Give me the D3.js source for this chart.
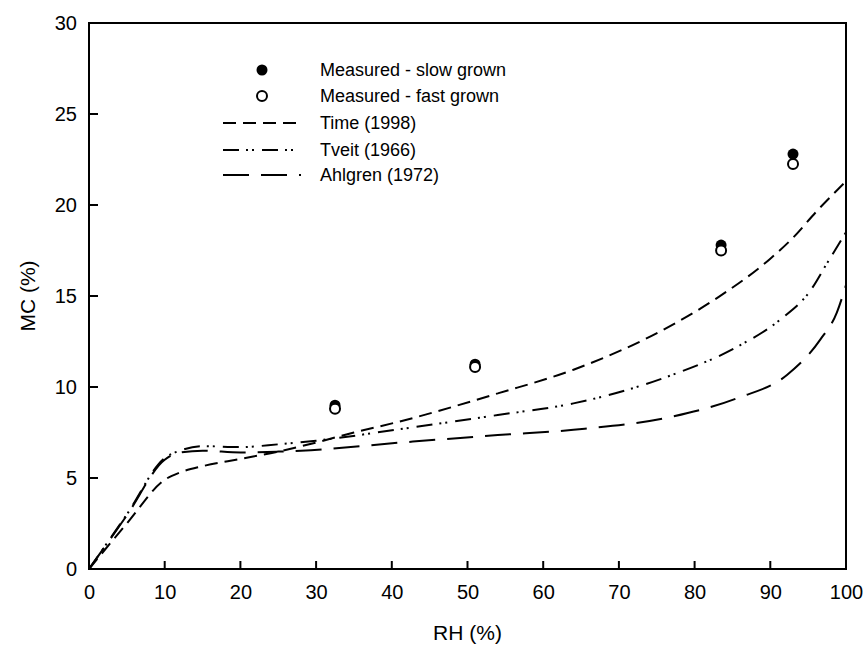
<!DOCTYPE html>
<html>
<head>
<meta charset="utf-8">
<script src="https://cdn.jsdelivr.net/npm/d3@7"></script>
<style>
  body { margin: 0; background: #fff; }
  svg { display: block; font-family: "Liberation Sans", Arial, sans-serif; }
</style>
</head>
<body>
<div id="chart"></div>
<script>
// measured points
const measuredRH = [32.5, 51, 83.5, 93];
const slowMC = [9.0, 11.25, 17.8, 22.8];
const fastMC = [8.8, 11.1, 17.5, 22.25];

// model curves
const timeRH = [0, 5, 10, 12, 15, 20, 25, 30, 35, 41, 54, 64, 77, 83, 90, 93, 96, 100];
const timeMC = [0, 2.5, 4.9, 5.3, 5.65, 6.05, 6.45, 6.95, 7.5, 8.1, 9.65, 10.95, 13.4, 14.9, 17.05, 18.2, 19.6, 21.3];

const tveitRH = [0, 5, 10, 12, 15, 20, 25, 30, 41, 54, 64, 77, 85.6, 91.3, 95.3, 97.5, 100];
const tveitMC = [0, 3.0, 6.1, 6.5, 6.75, 6.7, 6.85, 7.05, 7.68, 8.46, 9.1, 10.66, 12.2, 13.7, 15.3, 16.8, 18.5];

const ahlgrenRH = [0, 5, 10, 12, 15, 20, 25, 28, 41, 54, 64, 77, 85.6, 92.2, 96.6, 98.8, 100];
const ahlgrenMC = [0, 2.95, 6.0, 6.4, 6.5, 6.4, 6.45, 6.5, 6.94, 7.36, 7.65, 8.37, 9.38, 10.66, 12.6, 14.1, 15.6];

const xTicks = [0, 10, 20, 30, 40, 50, 60, 70, 80, 90, 100];
const yTicks = [0, 5, 10, 15, 20, 25, 30];

const legendLabels = ["Measured - slow grown", "Measured - fast grown", "Time (1998)", "Tveit (1966)", "Ahlgren (1972)"];

const width = 864, height = 648;
const svg = d3.select("#chart").append("svg")
  .attr("width", width)
  .attr("height", height);

const x = d3.scaleLinear().domain([0, 100]).range([89, 846]);
const y = d3.scaleLinear().domain([0, 30]).range([569, 23]);

const curves = [
  {rh: timeRH, mc: timeMC, dash: "13,7"},
  {rh: tveitRH, mc: tveitMC, dash: "16,7,2,4,2,8"},
  {rh: ahlgrenRH, mc: ahlgrenMC, dash: "26,12"}
];

const line = d3.line()
  .x(d => x(d[0]))
  .y(d => y(d[1]))
  .curve(d3.curveMonotoneX);

curves.forEach(c => {
  svg.append("path")
    .datum(c.rh.map((v, i) => [v, c.mc[i]]))
    .attr("d", line)
    .attr("fill", "none")
    .attr("stroke", "#000")
    .attr("stroke-width", 2)
    .attr("stroke-dasharray", c.dash);
});

// frame
svg.append("rect")
  .attr("x", x(0)).attr("y", y(30))
  .attr("width", x(100) - x(0)).attr("height", y(0) - y(30))
  .attr("fill", "none").attr("stroke", "#000").attr("stroke-width", 2);

// axes with inward ticks
const xAxis = svg.append("g")
  .attr("transform", `translate(0,${y(0)})`)
  .call(d3.axisBottom(x).tickValues(xTicks).tickSize(0).tickPadding(16));
xAxis.select(".domain").remove();
xAxis.selectAll("text").attr("font-size", 20).attr("font-family", "Liberation Sans, Arial, sans-serif").attr("fill", "#000");

svg.append("g").selectAll("line")
  .data(xTicks.filter(d => d > 0 && d < 100))
  .join("line")
  .attr("x1", d => x(d)).attr("x2", d => x(d))
  .attr("y1", y(0)).attr("y2", y(0) - 8)
  .attr("stroke", "#000").attr("stroke-width", 2);

const yAxis = svg.append("g")
  .attr("transform", `translate(${x(0)},0)`)
  .call(d3.axisLeft(y).tickValues(yTicks).tickSize(0).tickPadding(12));
yAxis.select(".domain").remove();
yAxis.selectAll("text").attr("font-size", 20).attr("font-family", "Liberation Sans, Arial, sans-serif").attr("fill", "#000");

svg.append("g").selectAll("line")
  .data(yTicks.filter(d => d > 0 && d < 30))
  .join("line")
  .attr("x1", x(0)).attr("x2", x(0) + 9)
  .attr("y1", d => y(d)).attr("y2", d => y(d))
  .attr("stroke", "#000").attr("stroke-width", 2);

// measured points
svg.append("g").selectAll("circle")
  .data(measuredRH.map((v, i) => [v, slowMC[i]]))
  .join("circle")
  .attr("cx", d => x(d[0])).attr("cy", d => y(d[1]))
  .attr("r", 5.5).attr("fill", "#000");

svg.append("g").selectAll("circle")
  .data(measuredRH.map((v, i) => [v, fastMC[i]]))
  .join("circle")
  .attr("cx", d => x(d[0])).attr("cy", d => y(d[1]))
  .attr("r", 5).attr("fill", "#fff").attr("stroke", "#000").attr("stroke-width", 2);

// axis titles
svg.append("text")
  .attr("x", (x(0) + x(100)) / 2).attr("y", 640)
  .attr("text-anchor", "middle").attr("font-size", 21)
  .text("RH (%)");

svg.append("text")
  .attr("transform", `translate(35,${(y(0) + y(30)) / 2}) rotate(-90)`)
  .attr("text-anchor", "middle").attr("font-size", 21)
  .text("MC (%)");

// legend
const legY = [70, 96, 123, 150, 175];
const leg = svg.append("g");
leg.append("circle").attr("cx", 262).attr("cy", legY[0]).attr("r", 5.5).attr("fill", "#000");
leg.append("circle").attr("cx", 262).attr("cy", legY[1]).attr("r", 5)
  .attr("fill", "#fff").attr("stroke", "#000").attr("stroke-width", 2);
curves.forEach((c, i) => {
  leg.append("line")
    .attr("x1", 223).attr("x2", 301)
    .attr("y1", legY[i + 2]).attr("y2", legY[i + 2])
    .attr("stroke", "#000").attr("stroke-width", 2)
    .attr("stroke-dasharray", c.dash);
});
leg.selectAll("text")
  .data(legendLabels)
  .join("text")
  .attr("x", 320).attr("y", (d, i) => legY[i])
  .attr("dy", "0.35em")
  .attr("font-size", 18)
  .text(d => d);
</script>
</body>
</html>
